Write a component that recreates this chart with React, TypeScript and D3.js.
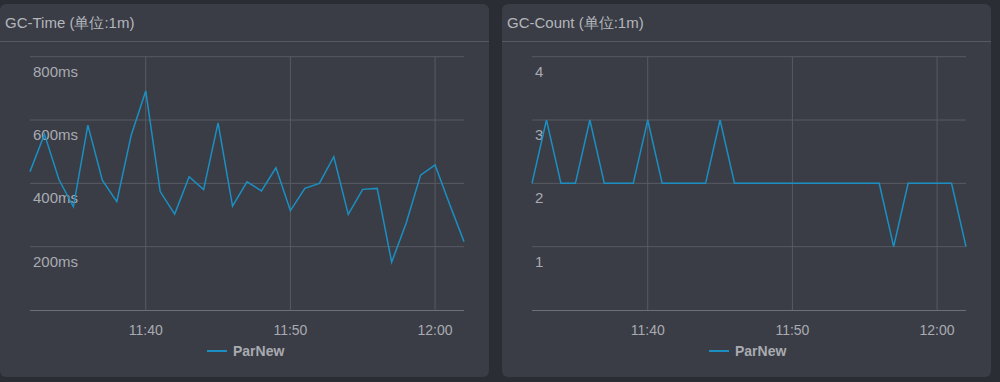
import React from "react";
import * as d3 from "d3";

const startMinute = 11 * 60 + 32;
const gcTimeMs = [437, 555, 412, 326, 584, 410, 342, 553, 692, 374, 303, 421, 380, 591, 328, 405, 376, 449, 314, 384, 400, 484, 302, 381, 384, 151, 274, 426, 458, 335, 216];
const gcCount = [2, 3, 2, 2, 3, 2, 2, 2, 3, 2, 2, 2, 2, 3, 2, 2, 2, 2, 2, 2, 2, 2, 2, 2, 2, 1, 2, 2, 2, 2, 1];
const timeTicks = [11 * 60 + 40, 11 * 60 + 50, 12 * 60];
const timeYTicks = [200, 400, 600, 800];
const countYTicks = [1, 2, 3, 4];
const seriesName = "ParNew";

const fmtTime = (m: number) => `${Math.floor(m / 60)}:${String(m % 60).padStart(2, "0")}`;

const FONT = "'Liberation Sans', Arial, Helvetica, sans-serif";
const LINE = "#1b8fc2";
const TEXT = "#a9abb1";
const GRID = "#585b63";

function Panel({ px, title, values, yMax, yTicks, yFmt }: { px: number; title: string; values: number[]; yMax: number; yTicks: number[]; yFmt: (v: number) => string }) {
  const pw = 489;
  const x0 = px + 30;
  const x1 = px + 464;
  const x = d3.scaleLinear().domain([startMinute, startMinute + values.length - 1]).range([x0, x1]);
  const y = d3.scaleLinear().domain([0, yMax]).range([310, 56.7]);
  const line = d3.line<number>().x((_, i) => x(startMinute + i)).y((d) => y(d));
  const cx = (x0 + x1) / 2;
  return (
    <g>
      <rect x={px} y={4} width={pw} height={373} rx={6} fill="#3a3d46" />
      <text x={px + 5} y={28} fill="#b4b6bb" fontSize={15} fontFamily={FONT}>{title}</text>
      <line x1={px} x2={px + pw} y1={41.5} y2={41.5} stroke="#565961" strokeWidth={1} />
      {yTicks.map((t) => (
        <line key={"gy" + t} x1={x0} x2={x1} y1={y(t)} y2={y(t)} stroke={GRID} strokeWidth={1} />
      ))}
      {timeTicks.map((t) => (
        <line key={"gx" + t} x1={x(t)} x2={x(t)} y1={y(yMax)} y2={310} stroke={GRID} strokeWidth={1} />
      ))}
      <line x1={x0} x2={x1} y1={310.5} y2={310.5} stroke="#6c6f76" strokeWidth={1.2} />
      {yTicks.map((t) => (
        <text key={"ly" + t} x={x0 + 3} y={y(t) + 20} fill={TEXT} fontSize={15} fontFamily={FONT}>{yFmt(t)}</text>
      ))}
      {timeTicks.map((t) => (
        <text key={"lx" + t} x={x(t)} y={335} fill={TEXT} fontSize={14} textAnchor="middle" fontFamily={FONT}>{fmtTime(t)}</text>
      ))}
      <path d={line(values) || ""} fill="none" stroke={LINE} strokeWidth={1.5} strokeLinejoin="miter" />
      <line x1={cx - 40} x2={cx - 20} y1={351} y2={351} stroke={LINE} strokeWidth={2} />
      <text x={cx - 14} y={356} fill={TEXT} fontSize={14} fontWeight="bold" fontFamily={FONT}>{seriesName}</text>
    </g>
  );
}

export default function App() {
  return (
    <svg width={1000} height={382} style={{ position: "fixed", left: 0, top: 0, display: "block" }}>
      <rect x={0} y={0} width={1000} height={382} fill="#2b2d34" />
      <Panel px={0} title="GC-Time (单位:1m)" values={gcTimeMs} yMax={800} yTicks={timeYTicks} yFmt={(v) => `${v}ms`} />
      <Panel px={502} title="GC-Count (单位:1m)" values={gcCount} yMax={4} yTicks={countYTicks} yFmt={(v) => `${v}`} />
    </svg>
  );
}
